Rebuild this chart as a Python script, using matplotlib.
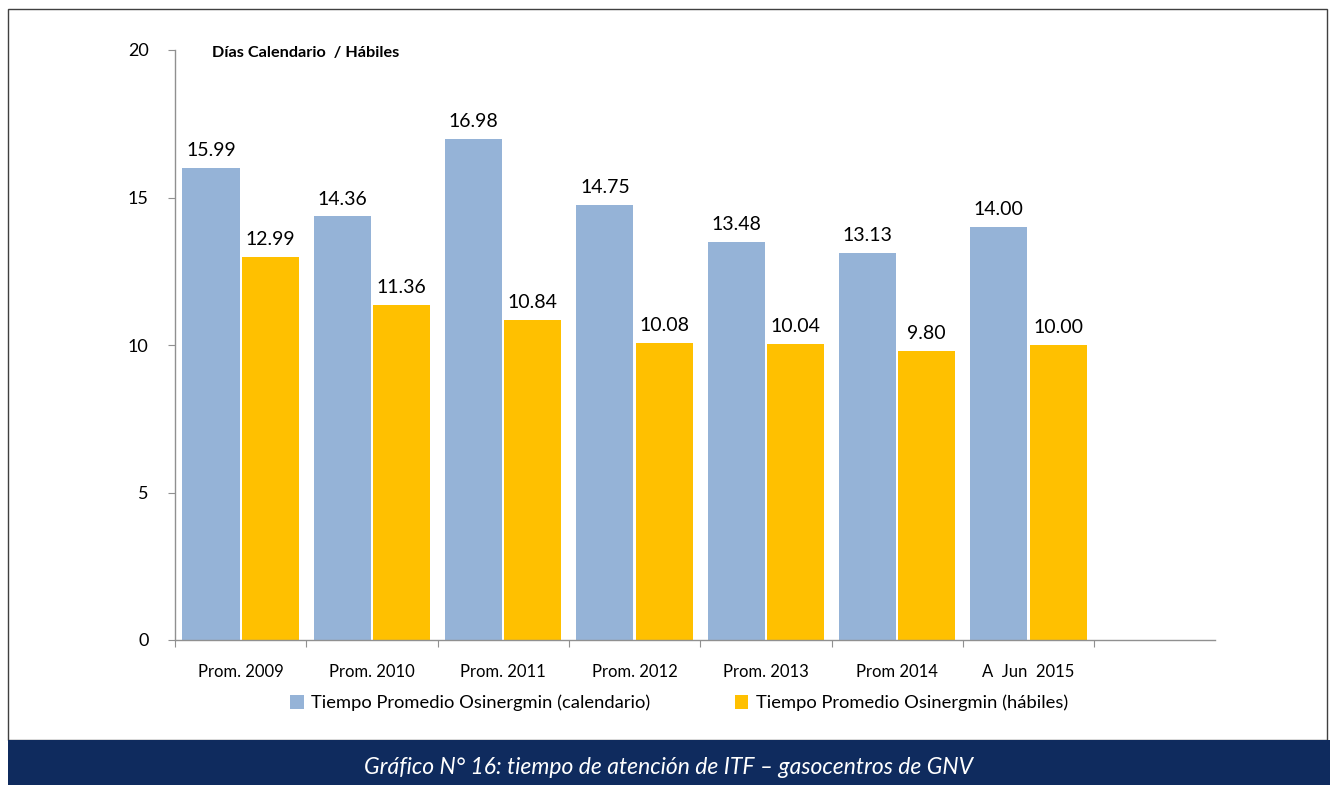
import matplotlib
matplotlib.use("Agg")
import matplotlib.pyplot as plt
from matplotlib.patches import Rectangle
import numpy as np

plt.rcParams['font.family'] = ['Lato', 'DejaVu Sans']

categories = ["Prom. 2009", "Prom. 2010", "Prom. 2011", "Prom. 2012",
              "Prom. 2013", "Prom 2014", "A  Jun  2015"]
calendario = [15.99, 14.36, 16.98, 14.75, 13.48, 13.13, 14.00]
habiles = [12.99, 11.36, 10.84, 10.08, 10.04, 9.80, 10.00]
series_names = ["Tiempo Promedio Osinergmin (calendario)",
                "Tiempo Promedio Osinergmin (hábiles)"]
yticks = [0, 5, 10, 15, 20]
ylabel = "Días Calendario  / Hábiles"
caption = "Gráfico N° 16: tiempo de atención de ITF – gasocentros de GNV"

W, H = 1330, 785
fig = plt.figure(figsize=(W/100, H/100), dpi=100)

# outer frame and caption band
fig.add_artist(Rectangle((8/W, 1-740/H), (1327-8)/W, (740-9)/H,
                         transform=fig.transFigure, fill=False,
                         edgecolor='#404040', linewidth=1.0))
fig.add_artist(Rectangle((8/W, 0), (W-8)/W, (785-740)/H,
                         transform=fig.transFigure, facecolor='#0F2B5E',
                         edgecolor='none'))
fig.text(668/W, 1-767/H, caption, color='white', style='italic',
         fontsize=16.5, ha='center', va='center')

ax = fig.add_axes([175/W, 1-640/H, (1215-175)/W, (640-50)/H])
x = np.arange(len(categories))
bw = 0.435
gap = 0.008
b1 = ax.bar(x - bw/2 - gap, calendario, bw, color='#95B3D7', label=series_names[0])
b2 = ax.bar(x + bw/2 + gap, habiles, bw, color='#FFC000', label=series_names[1])
for bars, vals in ((b1, calendario), (b2, habiles)):
    for r, v in zip(bars, vals):
        ax.text(r.get_x() + r.get_width()/2, v + 0.3, f"{v:.2f}",
                ha='center', va='bottom', fontsize=14, color='black')

slot_px = 131.3
ax.set_xlim(-0.5, (1215-175)/slot_px - 0.5)
ax.set_ylim(0, 20)
ax.set_yticks(yticks)
ax.set_yticklabels([str(t) for t in yticks], fontsize=13)
ax.set_xticks(np.arange(-0.5, len(categories), 1.0))
ax.set_xticklabels([])
ax.set_xticks(x, minor=True)
ax.set_xticklabels(categories, minor=True, fontsize=12)
ax.tick_params(axis='x', which='minor', length=0, pad=17)
ax.tick_params(axis='x', which='major', length=5, color='#909090', direction='out')
ax.tick_params(axis='y', length=5, color='#909090', direction='out', pad=14)
for s in ('top', 'right'):
    ax.spines[s].set_visible(False)
for s in ('left', 'bottom'):
    ax.spines[s].set_color('#909090')
    ax.spines[s].set_linewidth(1.0)

ax.text(212/W, 1-53/H, ylabel, transform=fig.transFigure, fontsize=11.7,
        fontweight='bold', ha='left', va='center')

leg = fig.legend(handles=[b1, b2], labels=series_names, loc='center',
                 bbox_to_anchor=(679/W, 1-703/H), ncol=2, frameon=False,
                 fontsize=13.2, handlelength=0.75, handleheight=0.75,
                 handletextpad=0.4, columnspacing=4.6)

fig.savefig("out.png", dpi=100)
